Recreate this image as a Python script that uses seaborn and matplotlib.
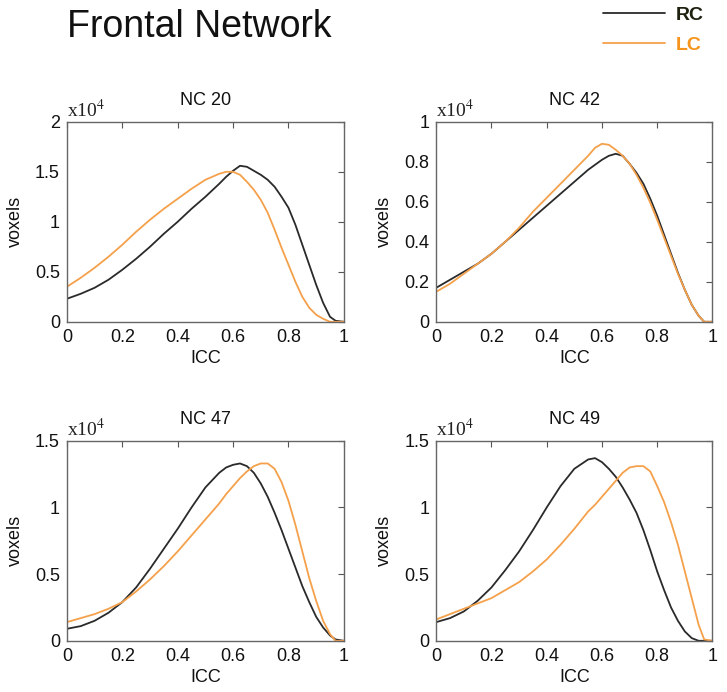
import matplotlib
matplotlib.use("Agg")
import matplotlib.pyplot as plt
from matplotlib.lines import Line2D
import pandas as pd
import seaborn as sns

# ── Data (in units of 10^4 voxels) ───────────────────────────────────────────
ICC = [0.0, 0.05, 0.1, 0.15, 0.2, 0.25, 0.3, 0.35, 0.4, 0.45, 0.5,
       0.55, 0.575, 0.6, 0.625, 0.65, 0.675, 0.7, 0.725, 0.75, 0.775,
       0.8, 0.825, 0.85, 0.875, 0.9, 0.925, 0.95, 0.97, 1.0]

NC20_RC = [0.23, 0.28, 0.34, 0.42, 0.52, 0.63, 0.75, 0.88, 1.00, 1.13, 1.25,
           1.38, 1.45, 1.51, 1.56, 1.55, 1.51, 1.47, 1.42, 1.35, 1.25,
           1.14, 0.97, 0.77, 0.57, 0.37, 0.19, 0.05, 0.01, 0.0]
NC20_LC = [0.35, 0.44, 0.54, 0.65, 0.77, 0.90, 1.02, 1.13, 1.23, 1.33, 1.42,
           1.48, 1.50, 1.50, 1.47, 1.40, 1.32, 1.22, 1.09, 0.92, 0.74,
           0.57, 0.40, 0.25, 0.14, 0.07, 0.03, 0.0, 0.0, 0.0]

NC42_RC = [0.17, 0.21, 0.25, 0.29, 0.34, 0.40, 0.46, 0.52, 0.58, 0.64, 0.70,
           0.76, 0.785, 0.81, 0.83, 0.84, 0.83, 0.79, 0.745, 0.69, 0.615,
           0.53, 0.435, 0.34, 0.245, 0.16, 0.085, 0.03, 0.0, 0.0]
NC42_LC = [0.15, 0.19, 0.24, 0.29, 0.34, 0.40, 0.47, 0.55, 0.62, 0.69, 0.76,
           0.83, 0.87, 0.89, 0.885, 0.86, 0.83, 0.79, 0.735, 0.67, 0.595,
           0.51, 0.42, 0.33, 0.24, 0.16, 0.085, 0.03, 0.0, 0.0]

NC47_RC = [0.09, 0.11, 0.15, 0.21, 0.29, 0.40, 0.54, 0.69, 0.84, 1.00, 1.15,
           1.26, 1.30, 1.32, 1.33, 1.31, 1.26, 1.18, 1.08, 0.96, 0.83,
           0.69, 0.55, 0.41, 0.29, 0.18, 0.10, 0.04, 0.01, 0.0]
NC47_LC = [0.14, 0.17, 0.20, 0.24, 0.29, 0.37, 0.46, 0.56, 0.67, 0.79, 0.91,
           1.03, 1.10, 1.16, 1.22, 1.27, 1.31, 1.33, 1.33, 1.29, 1.19,
           1.05, 0.87, 0.67, 0.47, 0.30, 0.15, 0.05, 0.0, 0.0]

NC49_RC = [0.14, 0.17, 0.22, 0.30, 0.40, 0.53, 0.67, 0.83, 1.00, 1.16, 1.29,
           1.36, 1.37, 1.34, 1.29, 1.23, 1.15, 1.06, 0.96, 0.83, 0.68,
           0.52, 0.38, 0.25, 0.15, 0.07, 0.02, 0.0, 0.0, 0.0]
NC49_LC = [0.16, 0.20, 0.24, 0.28, 0.32, 0.38, 0.44, 0.52, 0.61, 0.72, 0.84,
           0.97, 1.02, 1.08, 1.14, 1.20, 1.26, 1.30, 1.31, 1.31, 1.27,
           1.16, 1.04, 0.89, 0.72, 0.52, 0.32, 0.12, 0.01, 0.0]

PANELS  = ["NC 20", "NC 42", "NC 47", "NC 49"]
Y_MAX   = [2.0, 1.0, 1.5, 1.5]
Y_TICKS = [[0, 0.5, 1, 1.5, 2],
           [0, 0.2, 0.4, 0.6, 0.8, 1],
           [0, 0.5, 1, 1.5],
           [0, 0.5, 1, 1.5]]
SERIES  = {
    "NC 20": (NC20_RC, NC20_LC),
    "NC 42": (NC42_RC, NC42_LC),
    "NC 47": (NC47_RC, NC47_LC),
    "NC 49": (NC49_RC, NC49_LC),
}

RC_COLOR = "#2a2a2a"
LC_COLOR = "#f5a04a"

# ── Style ─────────────────────────────────────────────────────────────────────
sns.set_theme(style="white")
plt.rcParams["font.family"] = ["Liberation Sans", "DejaVu Sans"]
plt.rcParams["mathtext.fontset"] = "stix"


def fmt_tick(v):
    return "0" if v == 0 else ("%g" % v)


def draw_panel(ax, name, ymax, yticks):
    rc, lc = SERIES[name]
    df = pd.DataFrame({
        "ICC":    ICC + ICC,
        "voxels": rc + lc,
        "group":  ["RC"] * len(ICC) + ["LC"] * len(ICC),
    })
    sns.lineplot(data=df, x="ICC", y="voxels", hue="group",
                 palette={"RC": RC_COLOR, "LC": LC_COLOR},
                 linewidth=1.3, legend=False, ax=ax)
    ax.set_xlim(0, 1)
    ax.set_ylim(0, ymax)
    ax.set_xticks([0, 0.2, 0.4, 0.6, 0.8, 1])
    ax.set_xticklabels([fmt_tick(v) for v in [0, 0.2, 0.4, 0.6, 0.8, 1]])
    ax.set_yticks(yticks)
    ax.set_yticklabels([fmt_tick(v) for v in yticks])
    ax.tick_params(direction="in", length=4, width=0.8, color="#555555",
                   top=True, right=True, labelsize=13, pad=5,
                   labelcolor="#111111")
    for sp in ax.spines.values():
        sp.set_color("#666666")
        sp.set_linewidth(1.0)
    ax.set_title(name, fontsize=13, pad=12, color="#111111")
    ax.set_xlabel("ICC", fontsize=13, labelpad=3, color="#111111")
    ax.set_ylabel("voxels", fontsize=13, labelpad=8, color="#111111")
    ax.text(0.0, 1.005, r"x10$^{4}$", transform=ax.transAxes,
            family="Liberation Serif", fontsize=14, ha="left", va="bottom",
            color="#222222")


fig = plt.figure(figsize=(7.27, 6.92), dpi=100)
positions = [
    [0.092, 0.535, 0.381, 0.289],
    [0.600, 0.535, 0.380, 0.289],
    [0.092, 0.074, 0.381, 0.289],
    [0.600, 0.074, 0.380, 0.289],
]
for pos, name, ymax, yt in zip(positions, PANELS, Y_MAX, Y_TICKS):
    ax = fig.add_axes(pos)
    draw_panel(ax, name, ymax, yt)

fig.text(0.092, 0.9465, "Frontal Network", fontsize=27, ha="left",
         va="baseline", color="#111111")

handles = [Line2D([], [], color=RC_COLOR, linewidth=1.3),
           Line2D([], [], color=LC_COLOR, linewidth=1.3)]
fig.legend(handles, ["RC", "LC"], loc="upper left",
           bbox_to_anchor=(603 / 727, 1 - 6 / 692), frameon=False,
           prop={"weight": "bold", "size": 14},
           labelcolor=["#1e2010", "#f7941d"],
           handlelength=3.2, handletextpad=0.55, labelspacing=0.65,
           borderpad=0, borderaxespad=0)

fig.savefig("out.png", dpi=100, facecolor="white")
